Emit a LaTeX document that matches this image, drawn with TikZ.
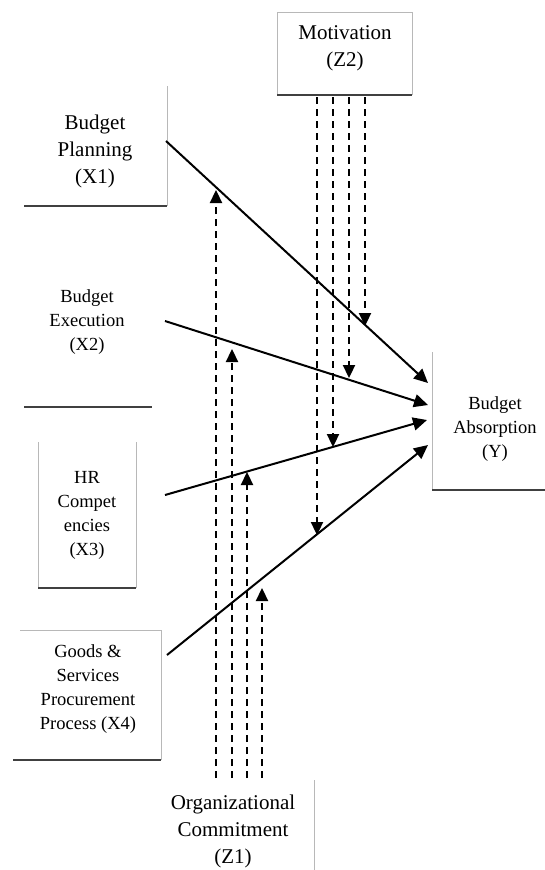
\documentclass[tikz,border=0pt]{standalone}
\usepackage{fontspec}
\setmainfont{Liberation Serif}
\usetikzlibrary{arrows.meta,positioning}

\begin{document}
\begin{tikzpicture}[x=1pt,y=-1pt,align=center]
\tikzstyle{bigtext}=[font=\fontsize{21}{27}\selectfont,text=black,inner sep=0]
\tikzstyle{smalltext}=[font=\fontsize{18.5}{24}\selectfont,text=black,inner sep=0]
\tikzstyle{faint}=[draw=black!28,line width=1pt]
\tikzstyle{base}=[draw=black!75,line width=2.4pt]
\tikzstyle{followed}=[-{Triangle[length=14pt,width=13pt]},line width=2pt]
\tikzstyle{moderated}=[-{Triangle[length=13pt,width=12pt]},line width=2.3pt,dash pattern=on 7pt off 5pt]

\useasboundingbox (0,0) rectangle (545,870);

% box edges
\draw[faint] (277,95) -- (277,12) -- (412,12) -- (412,95);
\draw[base] (277,95) -- (412,95);
\draw[faint] (167,86) -- (167,206);
\draw[base] (24,206) -- (167,206);
\draw[base] (24,407) -- (152,407);
\draw[faint] (38,588) -- (38,442);
\draw[faint] (136,442) -- (136,588);
\draw[base] (38,588) -- (136,588);
\draw[faint] (20,630) -- (161,630) -- (161,760);
\draw[base] (13,760) -- (161,760);
\draw[faint] (314,780) -- (314,870);
\draw[faint] (432,352) -- (432,490);
\draw[base] (432,490) -- (545,490);

\node[bigtext] (z2) at (345,48) {Motivation\\(Z2)};
\node[bigtext] (x1) at (95,151) {Budget\\Planning\\(X1)};
\node[smalltext] (x2) at (87,322) {Budget\\Execution\\(X2)};
\node[smalltext] (x3) at (87,515) {HR\\Compet\\encies\\(X3)};
\node[smalltext] (x4) at (88,689) {Goods \&\\Services\\Procurement\\Process (X4)};
\node[bigtext] (z1) at (233,831) {Organizational\\Commitment\\(Z1)};
\node[smalltext] (y) at (495,429) {Budget\\Absorption\\(Y)};

% arrow ends
\coordinate (x1out) at (166,141);
\coordinate (x2out) at (165,321);
\coordinate (x3out) at (165,495);
\coordinate (x4out) at (167,655);
\coordinate (y1in) at (428,383);
\coordinate (y2in) at (428,405);
\coordinate (y3in) at (427,420);
\coordinate (y4in) at (428,445);

\coordinate (z2a) at (317,97);
\coordinate (z2b) at (333,97);
\coordinate (z2c) at (349,97);
\coordinate (z2d) at (365,97);
\coordinate (onx1a) at (365,326);
\coordinate (onx2a) at (349,378);
\coordinate (onx3a) at (333,447);
\coordinate (onx4a) at (317,535);

\coordinate (z1a) at (216,778);
\coordinate (z1b) at (232,778);
\coordinate (z1c) at (247,778);
\coordinate (z1d) at (262,778);
\coordinate (onx1b) at (216,190);
\coordinate (onx2b) at (232,349);
\coordinate (onx3b) at (247,472);
\coordinate (onx4b) at (262,588);

\path
  (x1out) edge [followed] (y1in)
  (x2out) edge [followed] (y2in)
  (x3out) edge [followed] (y3in)
  (x4out) edge [followed] (y4in);

\path
  (z2d) edge [moderated] (onx1a)
  (z2c) edge [moderated] (onx2a)
  (z2b) edge [moderated] (onx3a)
  (z2a) edge [moderated] (onx4a)
  (z1a) edge [moderated] (onx1b)
  (z1b) edge [moderated] (onx2b)
  (z1c) edge [moderated] (onx3b)
  (z1d) edge [moderated] (onx4b);
\end{tikzpicture}
\end{document}
